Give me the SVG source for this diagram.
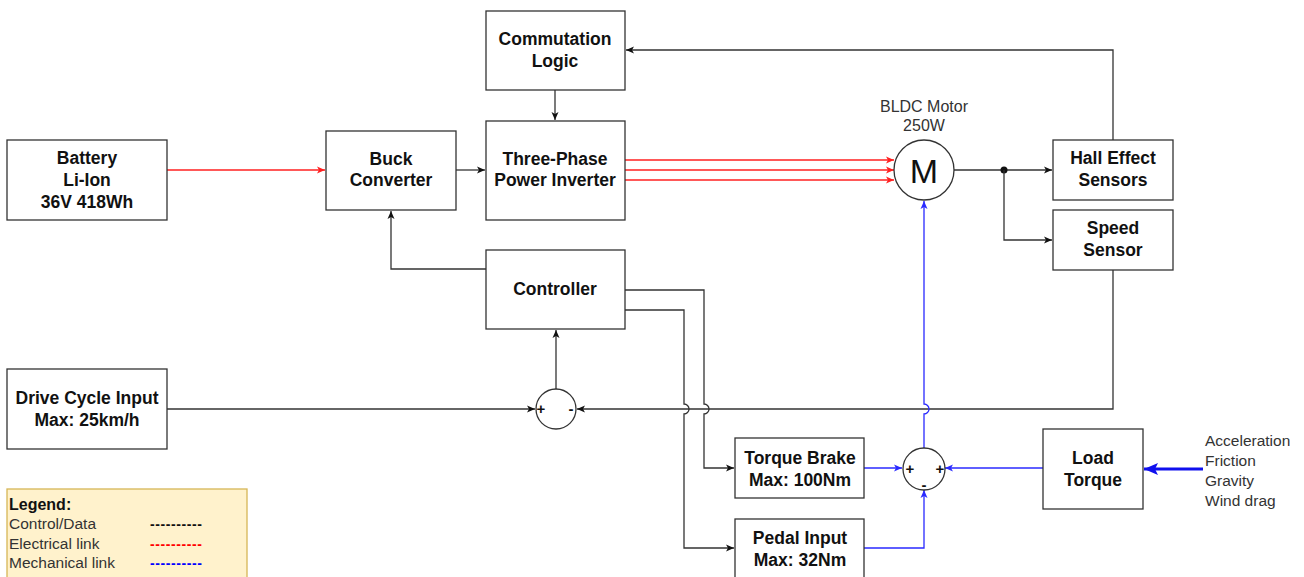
<svg xmlns="http://www.w3.org/2000/svg" width="1304" height="577" viewBox="0 0 1304 577">
<style>
.box{fill:#fff;stroke:#333;stroke-width:1.3}
.sum{fill:#fff;stroke:#333;stroke-width:1.3}
.t{font-family:"Liberation Sans",Arial,sans-serif;font-size:17.5px;font-weight:bold;fill:#111;text-anchor:middle}
.n{font-family:"Liberation Sans",Arial,sans-serif;font-size:15.5px;fill:#333}
.s{font-family:"Liberation Sans",Arial,sans-serif;font-size:15px;font-weight:bold;fill:#111;text-anchor:middle}
.d{font-family:"Liberation Sans",Arial,sans-serif;font-size:14px;font-weight:bold;letter-spacing:0.6px}
.k{fill:none;stroke:#333;stroke-width:1.3}
.r{fill:none;stroke:#ff2020;stroke-width:1.3}
.b{fill:none;stroke:#2a2aff;stroke-width:1.3}
.bt{fill:none;stroke:#1010ee;stroke-width:3}
</style>
<defs>
<marker id="ak" markerUnits="userSpaceOnUse" markerWidth="10" markerHeight="10" refX="9" refY="5" orient="auto"><path d="M1,1.5 L9,5 L1,8.5 L3,5 Z" fill="#111"/></marker>
<marker id="ar" markerUnits="userSpaceOnUse" markerWidth="10" markerHeight="10" refX="9" refY="5" orient="auto"><path d="M1,1.5 L9,5 L1,8.5 L3,5 Z" fill="#ff2020"/></marker>
<marker id="ab" markerUnits="userSpaceOnUse" markerWidth="10" markerHeight="10" refX="9" refY="5" orient="auto"><path d="M1,1.5 L9,5 L1,8.5 L3,5 Z" fill="#2a2aff"/></marker>
<marker id="abt" markerUnits="userSpaceOnUse" markerWidth="16" markerHeight="16" refX="15" refY="8" orient="auto"><path d="M1,2 L15,8 L1,14 L4,8 Z" fill="#1010ee"/></marker>
</defs>

<g id="connectors">
<path class="r" d="M167,170 H325" marker-end="url(#ar)"/>
<path class="k" d="M456,170 H485" marker-end="url(#ak)"/>
<path class="k" d="M555,90 V120" marker-end="url(#ak)"/>
<path class="r" d="M625,160 H894" marker-end="url(#ar)"/>
<path class="r" d="M625,170 H894" marker-end="url(#ar)"/>
<path class="r" d="M625,180 H894" marker-end="url(#ar)"/>
<path class="k" d="M954,170 H1052" marker-end="url(#ak)"/>
<circle cx="1004" cy="170" r="3.5" fill="#111"/>
<path class="k" d="M1004,170 V240 H1052" marker-end="url(#ak)"/>
<path class="k" d="M1113,140 V50 H626" marker-end="url(#ak)"/>
<path class="k" d="M486,269 H391 V211" marker-end="url(#ak)"/>
<path class="k" d="M556,389 V330" marker-end="url(#ak)"/>
<path class="k" d="M167,409 H535" marker-end="url(#ak)"/>
<path class="k" d="M1113,270 V409 H577" marker-end="url(#ak)"/>
<path class="k" d="M625,290 H704 V404 A5,5 0 0 1 704,414 V468 H734" marker-end="url(#ak)"/>
<path class="k" d="M625,310 H684 V404 A5,5 0 0 1 684,414 V548 H734" marker-end="url(#ak)"/>
<path class="b" d="M924,448 V414 A5,5 0 0 0 924,404 V201" marker-end="url(#ab)"/>
<path class="b" d="M864,468 H902" marker-end="url(#ab)"/>
<path class="b" d="M1043,468 H945" marker-end="url(#ab)"/>
<path class="b" d="M864,548 H924 V490" marker-end="url(#ab)"/>
<path class="bt" d="M1203,469 H1144" marker-end="url(#abt)"/>
</g>

<g id="battery"><rect class="box" x="7" y="140" width="160" height="80"/>
<text class="t" x="87" y="164">Battery</text><text class="t" x="87" y="186">Li-Ion</text><text class="t" x="87" y="208">36V 418Wh</text></g>

<g id="buck"><rect class="box" x="326" y="131" width="130" height="79"/>
<text class="t" x="391" y="165">Buck</text><text class="t" x="391" y="186">Converter</text></g>

<g id="commutation"><rect class="box" x="486" y="11" width="139" height="79"/>
<text class="t" x="555" y="45">Commutation</text><text class="t" x="555" y="67">Logic</text></g>

<g id="inverter"><rect class="box" x="486" y="121" width="139" height="99"/>
<text class="t" x="555" y="165">Three-Phase</text><text class="t" x="555" y="186">Power Inverter</text></g>

<g id="controller"><rect class="box" x="486" y="250" width="139" height="79"/>
<text class="t" x="555" y="295">Controller</text></g>

<g id="motor"><circle class="sum" cx="924" cy="170" r="30"/>
<text x="924" y="183" style="font-family:'Liberation Sans',Arial,sans-serif;font-size:34px;fill:#111;text-anchor:middle">M</text>
<text class="n" x="924" y="112" text-anchor="middle" style="font-size:16px">BLDC Motor</text>
<text class="n" x="924" y="131" text-anchor="middle" style="font-size:16px">250W</text></g>

<g id="hall"><rect class="box" x="1053" y="140" width="120" height="60"/>
<text class="t" x="1113" y="164">Hall Effect</text><text class="t" x="1113" y="186">Sensors</text></g>

<g id="speed"><rect class="box" x="1053" y="210" width="120" height="60"/>
<text class="t" x="1113" y="234">Speed</text><text class="t" x="1113" y="256">Sensor</text></g>

<g id="drive"><rect class="box" x="7" y="369" width="160" height="80"/>
<text class="t" x="87" y="404">Drive Cycle Input</text><text class="t" x="87" y="426">Max: 25km/h</text></g>

<g id="sum1"><circle class="sum" cx="556" cy="409" r="20"/>
<text class="s" x="541" y="414">+</text><text class="s" x="571" y="414">-</text></g>

<g id="torquebrake"><rect class="box" x="735" y="438" width="129" height="60"/>
<text class="t" x="800" y="464">Torque Brake</text><text class="t" x="800" y="486">Max: 100Nm</text></g>

<g id="pedal"><rect class="box" x="735" y="519" width="129" height="62"/>
<text class="t" x="800" y="544">Pedal Input</text><text class="t" x="800" y="566">Max: 32Nm</text></g>

<g id="sum2"><circle class="sum" cx="924" cy="469" r="21"/>
<text class="s" x="910" y="474">+</text><text class="s" x="940" y="474">+</text><text class="s" x="924" y="490">-</text></g>

<g id="load"><rect class="box" x="1043" y="429" width="100" height="80"/>
<text class="t" x="1093" y="464">Load</text><text class="t" x="1093" y="486">Torque</text></g>

<g id="disturbances">
<text class="n" x="1205" y="446">Acceleration</text>
<text class="n" x="1205" y="466">Friction</text>
<text class="n" x="1205" y="486">Gravity</text>
<text class="n" x="1205" y="506">Wind drag</text></g>

<g id="legend"><rect x="7" y="489" width="240" height="95" fill="#fff2cc" stroke="#d6b656" stroke-width="1.3"/>
<text class="n" x="9" y="510" style="font-weight:bold;fill:#111;font-size:16px">Legend:</text>
<text class="n" x="9" y="529">Control/Data</text>
<text class="n" x="9" y="549">Electrical link</text>
<text class="n" x="9" y="568">Mechanical link</text>
<text class="d" x="150" y="529" fill="#111">----------</text>
<text class="d" x="150" y="549" fill="#ff0000">----------</text>
<text class="d" x="150" y="568" fill="#0000ff">----------</text></g>
</svg>
